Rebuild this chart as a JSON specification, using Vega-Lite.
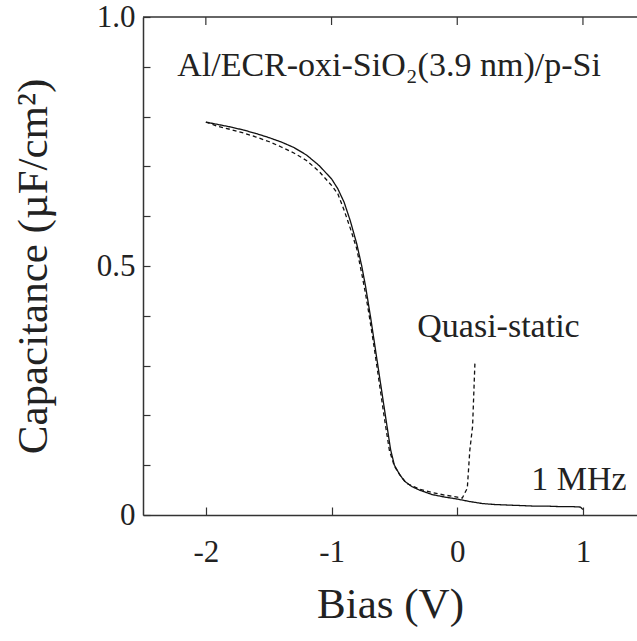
{
  "$schema": "https://vega.github.io/schema/vega-lite/v6.json",
  "autosize": {"type": "none"},
  "padding": {"left": 143, "top": 17, "right": 0, "bottom": 126},
  "width": 494,
  "height": 498,
  "background": "white",
  "config": {
    "view": {"stroke": null},
    "axis": {
      "domainColor": "#333",
      "domainWidth": 1.5,
      "tickColor": "#333",
      "tickWidth": 1.2,
      "labelFont": "Liberation Serif",
      "titleFont": "Liberation Serif",
      "labelColor": "#222",
      "titleColor": "#222",
      "titleFontWeight": "normal",
      "grid": false
    }
  },
  "datasets": {
    "curves": [
      {"bias": -2.0, "cap": 0.789, "series": "1 MHz"},
      {"bias": -1.9, "cap": 0.784, "series": "1 MHz"},
      {"bias": -1.8, "cap": 0.779, "series": "1 MHz"},
      {"bias": -1.7, "cap": 0.773, "series": "1 MHz"},
      {"bias": -1.6, "cap": 0.766, "series": "1 MHz"},
      {"bias": -1.5, "cap": 0.758, "series": "1 MHz"},
      {"bias": -1.4, "cap": 0.749, "series": "1 MHz"},
      {"bias": -1.3, "cap": 0.738, "series": "1 MHz"},
      {"bias": -1.2, "cap": 0.723, "series": "1 MHz"},
      {"bias": -1.1, "cap": 0.702, "series": "1 MHz"},
      {"bias": -1.0, "cap": 0.675, "series": "1 MHz"},
      {"bias": -0.95, "cap": 0.655, "series": "1 MHz"},
      {"bias": -0.9, "cap": 0.628, "series": "1 MHz"},
      {"bias": -0.85, "cap": 0.590, "series": "1 MHz"},
      {"bias": -0.8, "cap": 0.545, "series": "1 MHz"},
      {"bias": -0.76, "cap": 0.500, "series": "1 MHz"},
      {"bias": -0.73, "cap": 0.460, "series": "1 MHz"},
      {"bias": -0.69, "cap": 0.398, "series": "1 MHz"},
      {"bias": -0.65, "cap": 0.331, "series": "1 MHz"},
      {"bias": -0.61, "cap": 0.264, "series": "1 MHz"},
      {"bias": -0.57, "cap": 0.197, "series": "1 MHz"},
      {"bias": -0.53, "cap": 0.131, "series": "1 MHz"},
      {"bias": -0.5, "cap": 0.100, "series": "1 MHz"},
      {"bias": -0.46, "cap": 0.082, "series": "1 MHz"},
      {"bias": -0.42, "cap": 0.068, "series": "1 MHz"},
      {"bias": -0.36, "cap": 0.057, "series": "1 MHz"},
      {"bias": -0.3, "cap": 0.050, "series": "1 MHz"},
      {"bias": -0.2, "cap": 0.041, "series": "1 MHz"},
      {"bias": -0.1, "cap": 0.036, "series": "1 MHz"},
      {"bias": 0.0, "cap": 0.032, "series": "1 MHz"},
      {"bias": 0.1, "cap": 0.027, "series": "1 MHz"},
      {"bias": 0.2, "cap": 0.023, "series": "1 MHz"},
      {"bias": 0.3, "cap": 0.021, "series": "1 MHz"},
      {"bias": 0.4, "cap": 0.020, "series": "1 MHz"},
      {"bias": 0.5, "cap": 0.019, "series": "1 MHz"},
      {"bias": 0.6, "cap": 0.018, "series": "1 MHz"},
      {"bias": 0.7, "cap": 0.018, "series": "1 MHz"},
      {"bias": 0.8, "cap": 0.017, "series": "1 MHz"},
      {"bias": 0.9, "cap": 0.017, "series": "1 MHz"},
      {"bias": 0.98, "cap": 0.016, "series": "1 MHz"},
      {"bias": 1.0, "cap": 0.011, "series": "1 MHz"},
      {"bias": -2.0, "cap": 0.789, "series": "Quasi-static"},
      {"bias": -1.9, "cap": 0.780, "series": "Quasi-static"},
      {"bias": -1.8, "cap": 0.774, "series": "Quasi-static"},
      {"bias": -1.7, "cap": 0.767, "series": "Quasi-static"},
      {"bias": -1.6, "cap": 0.759, "series": "Quasi-static"},
      {"bias": -1.5, "cap": 0.750, "series": "Quasi-static"},
      {"bias": -1.4, "cap": 0.739, "series": "Quasi-static"},
      {"bias": -1.3, "cap": 0.727, "series": "Quasi-static"},
      {"bias": -1.2, "cap": 0.712, "series": "Quasi-static"},
      {"bias": -1.1, "cap": 0.690, "series": "Quasi-static"},
      {"bias": -1.0, "cap": 0.662, "series": "Quasi-static"},
      {"bias": -0.95, "cap": 0.645, "series": "Quasi-static"},
      {"bias": -0.9, "cap": 0.612, "series": "Quasi-static"},
      {"bias": -0.85, "cap": 0.575, "series": "Quasi-static"},
      {"bias": -0.8, "cap": 0.535, "series": "Quasi-static"},
      {"bias": -0.76, "cap": 0.485, "series": "Quasi-static"},
      {"bias": -0.73, "cap": 0.445, "series": "Quasi-static"},
      {"bias": -0.7, "cap": 0.400, "series": "Quasi-static"},
      {"bias": -0.66, "cap": 0.335, "series": "Quasi-static"},
      {"bias": -0.62, "cap": 0.265, "series": "Quasi-static"},
      {"bias": -0.58, "cap": 0.195, "series": "Quasi-static"},
      {"bias": -0.54, "cap": 0.130, "series": "Quasi-static"},
      {"bias": -0.5, "cap": 0.098, "series": "Quasi-static"},
      {"bias": -0.45, "cap": 0.078, "series": "Quasi-static"},
      {"bias": -0.4, "cap": 0.063, "series": "Quasi-static"},
      {"bias": -0.3, "cap": 0.052, "series": "Quasi-static"},
      {"bias": -0.2, "cap": 0.045, "series": "Quasi-static"},
      {"bias": -0.1, "cap": 0.040, "series": "Quasi-static"},
      {"bias": 0.0, "cap": 0.036, "series": "Quasi-static"},
      {"bias": 0.04, "cap": 0.034, "series": "Quasi-static"},
      {"bias": 0.08, "cap": 0.054, "series": "Quasi-static"},
      {"bias": 0.10, "cap": 0.130, "series": "Quasi-static"},
      {"bias": 0.122, "cap": 0.178, "series": "Quasi-static"},
      {"bias": 0.141, "cap": 0.308, "series": "Quasi-static"}
    ],
    "labels": [
      {"bias": -2.228, "cap": 0.881, "text": "Al/ECR-oxi-SiO₂(3.9 nm)/p-Si"},
      {"bias": -0.318, "cap": 0.357, "text": "Quasi-static"},
      {"bias": 0.589, "cap": 0.050, "text": "1 MHz"}
    ],
    "topticks": [
      {"bias": -2},
      {"bias": -1},
      {"bias": 0},
      {"bias": 1}
    ],
    "frame": [
      {"edge": "top"}
    ]
  },
  "layer": [
    {
      "data": {"name": "curves"},
      "mark": {"type": "line", "color": "#111", "strokeWidth": 1.3},
      "encoding": {
        "x": {
          "field": "bias", "type": "quantitative",
          "scale": {"domain": [-2.5, 1.43], "nice": false, "zero": false},
          "axis": {
            "orient": "bottom",
            "values": [-2, -1, 0, 1],
            "labelExpr": "toString(datum.value)",
            "tickSize": -8,
            "labelPadding": 30,
            "labelFontSize": 31,
            "title": "Bias (V)",
            "titleFontSize": 43,
            "titlePadding": 16
          }
        },
        "y": {
          "field": "cap", "type": "quantitative",
          "scale": {"domain": [0, 1], "nice": false},
          "axis": {
            "values": [0, 0.1, 0.2, 0.3, 0.4, 0.5, 0.6, 0.7, 0.8, 0.9, 1],
            "labelExpr": "datum.value == 0 ? '0' : datum.value == 0.5 ? '0.5' : datum.value == 1 ? '1.0' : ''",
            "tickSize": -7,
            "labelPadding": 15,
            "labelFontSize": 31,
            "title": "Capacitance (µF/cm²)",
            "titleFontSize": 43,
            "titlePadding": 41
          }
        },
        "strokeDash": {
          "field": "series", "type": "nominal",
          "scale": {"domain": ["1 MHz", "Quasi-static"], "range": [[1, 0], [4, 3]]},
          "legend": null
        },
        "detail": {"field": "series"}
      }
    },
    {
      "data": {"name": "labels"},
      "mark": {"type": "text", "align": "left", "baseline": "alphabetic", "font": "Liberation Serif", "fontSize": 34, "color": "#222"},
      "encoding": {
        "x": {"field": "bias", "type": "quantitative"},
        "y": {"field": "cap", "type": "quantitative"},
        "text": {"field": "text"}
      }
    },
    {
      "data": {"name": "frame"},
      "mark": {"type": "tick", "orient": "horizontal", "size": 494, "thickness": 1.5, "color": "#333", "opacity": 1},
      "encoding": {
        "x": {"datum": -0.535, "type": "quantitative"},
        "y": {"datum": 1, "type": "quantitative"},
        "detail": {"field": "edge", "type": "nominal"}
      }
    },
    {
      "data": {"name": "topticks"},
      "mark": {"type": "tick", "orient": "vertical", "size": 16, "thickness": 1.2, "color": "#333", "opacity": 1, "clip": true},
      "encoding": {
        "x": {"field": "bias", "type": "quantitative"},
        "y": {"datum": 1, "type": "quantitative"}
      }
    }
  ]
}
